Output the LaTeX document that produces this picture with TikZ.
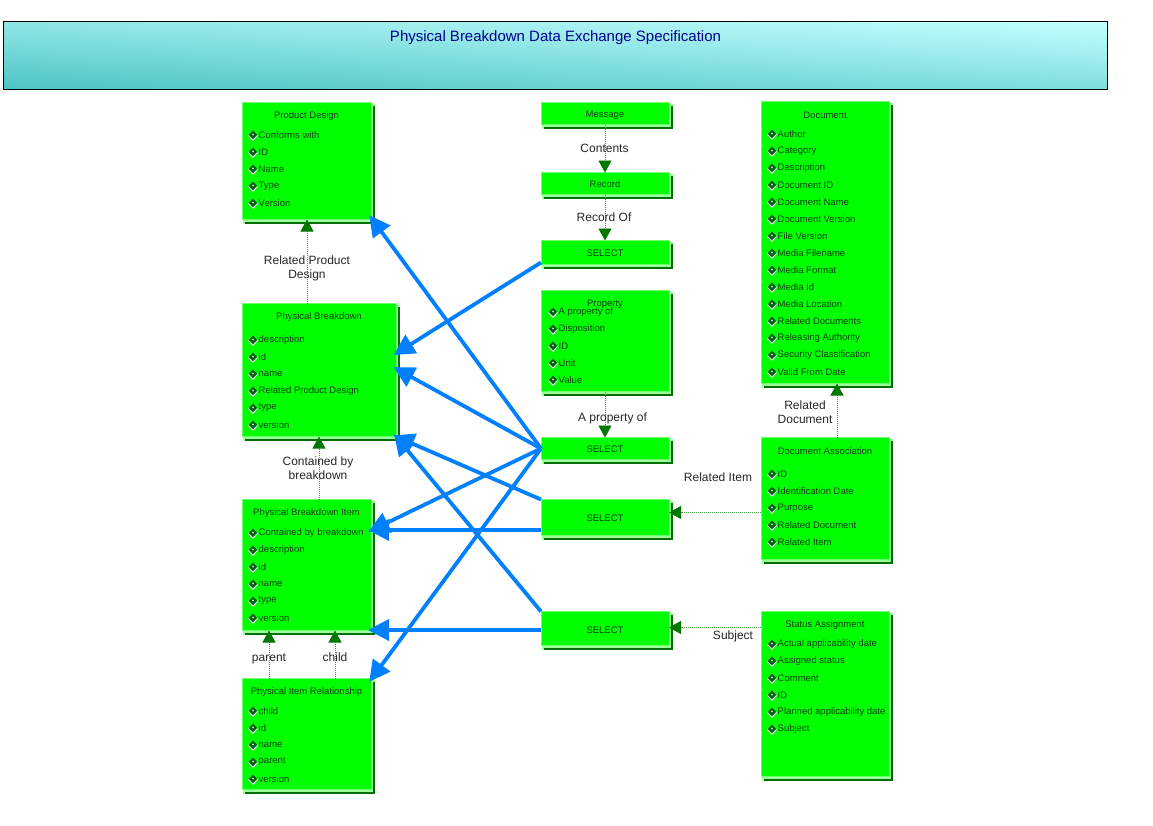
\documentclass[tikz,border=0pt]{standalone}
\usepackage{fontspec}
\setmainfont{Liberation Sans}
\usetikzlibrary{arrows.meta,calc,shadings}
\definecolor{boxg}{RGB}{0,255,0}
\definecolor{edgeg}{RGB}{110,255,110}
\definecolor{shadg}{RGB}{0,110,0}
\definecolor{linkg}{RGB}{0,120,0}
\definecolor{blue1}{RGB}{0,128,255}
\definecolor{titleblue}{RGB}{0,0,139}
\definecolor{banll}{RGB}{76,196,196}
\definecolor{banlr}{RGB}{128,222,222}
\definecolor{banul}{RGB}{144,230,230}
\definecolor{banur}{RGB}{196,255,255}
\definecolor{entext}{RGB}{10,60,10}
\definecolor{bulwhite}{RGB}{235,225,240}
\definecolor{buldark}{RGB}{0,90,20}
\definecolor{bulhi}{RGB}{190,245,170}
\tikzset{
  x=1pt,y=-1pt,
  entbox/.style={draw=edgeg,line width=1pt,fill=boxg,inner sep=0pt,outer sep=0pt,anchor=north west},
  etitle/.style={font=\fontsize{9.5}{11}\selectfont,text=entext,inner sep=0pt,anchor=center},
  eitem/.style={font=\fontsize{9.5}{11}\selectfont,text=entext,inner sep=0pt,anchor=west},
  lab/.style={font=\fontsize{12}{14}\selectfont,text=black!85,align=center,inner sep=0pt},
  rel/.style={draw=linkg!75,line width=.8pt,dash pattern=on .8pt off 1.2pt,-{Triangle[length=12pt,width=13pt,color=linkg]}},
  refr/.style={draw=blue1,line width=3.8pt,-{Triangle[length=21pt,width=21pt,color=blue1]},shorten >=-3pt},
}
\newcommand{\bul}[2]{%
  \fill[bulwhite] (#1-5,#2+.5) -- (#1,#2-1) -- (#1+5,#2+.5) -- (#1,#2+6) -- cycle;
  \fill[buldark] (#1-4.2,#2) -- (#1,#2-4.5) -- (#1+4.2,#2) -- (#1,#2+4) -- cycle;
  \fill[bulhi] (#1-1,#2-.4) -- (#1,#2-1.6) -- (#1+1,#2-.4) -- (#1,#2+.6) -- cycle;
}
% name, x0, y0, x1, y1, title, title y
\newcommand{\ebox}[7]{%
  \fill[white!60!green] (#2+1,#3+1) rectangle (#4+4,#5+3.5);
  \fill[shadg] (#4+2,#3+2.5) rectangle (#4+4,#5+3.5);
  \fill[shadg] (#2+3,#5+1.5) rectangle (#4+4,#5+3.5);
  \node[entbox,minimum width=#4-#2,minimum height=#5-#3] (#1) at (#2,#3-.5) {};
  \node[etitle] (#1t) at ({(#2+#4)/2},#7+.8) {#6};
}
% name suffix, x, y, text
\newcommand{\eit}[4]{%
  \bul{#2}{#3}
  \node[eitem] (it#1) at (#2+5.5,#3-.2) {#4};
}
\begin{document}
\begin{tikzpicture}
\useasboundingbox (0,0) rectangle (1153,825);
% banner
\node[draw=black,line width=1pt,inner sep=0pt,outer sep=0pt,anchor=north west,minimum width=1104,minimum height=68,
  lower left=banll,lower right=banlr,upper left=banul,upper right=banur] (banner) at (3,21.5) {};
\node[font=\fontsize{15}{17}\selectfont,text=titleblue,inner sep=0pt] (bannert) at (555.5,38) {Physical Breakdown Data Exchange Specification};
% entities
\ebox{pd}{242}{103}{371}{220}{Product Design}{115}
\eit{a1}{253}{135}{Conforms with}
\eit{a2}{253}{152}{ID}
\eit{a3}{253}{169}{Name}
\eit{a4}{253}{186}{Type}
\eit{a5}{253}{203}{Version}
\ebox{pb}{242}{304}{396}{437}{Physical Breakdown}{316}
\eit{b1}{253}{340}{description}
\eit{b2}{253}{357}{id}
\eit{b3}{253}{374}{name}
\eit{b4}{253}{391}{Related Product Design}
\eit{b5}{253}{408}{type}
\eit{b6}{253}{425}{version}
\ebox{pbi}{242}{500}{371}{631}{Physical Breakdown Item}{512}
\eit{c1}{253}{533}{Contained by breakdown}
\eit{c2}{253}{550}{description}
\eit{c3}{253}{567}{id}
\eit{c4}{253}{584}{name}
\eit{c5}{253}{601}{type}
\eit{c6}{253}{618}{version}
\ebox{pir}{242}{679}{371}{790}{Physical Item Relationship}{691}
\eit{d1}{253}{711}{child}
\eit{d2}{253}{728}{id}
\eit{d3}{253}{745}{name}
\eit{d4}{253}{762}{parent}
\eit{d5}{253}{779}{version}
\ebox{msg}{541}{103}{669}{125}{Message}{114}
\ebox{rec}{541}{173}{669}{195}{Record}{183}
\ebox{sela}{541}{241}{669}{265}{SELECT}{252}
\ebox{prop}{541}{291}{669}{392}{Property}{303}
\eit{e1}{553}{312}{A property of}
\eit{e2}{553}{329}{Disposition}
\eit{e3}{553}{346}{ID}
\eit{e4}{553}{363}{Unit}
\eit{e5}{553}{380}{Value}
\ebox{selb}{541}{438}{669}{460}{SELECT}{448}
\ebox{selc}{541}{500}{669}{536}{SELECT}{517}
\ebox{seld}{541}{612}{669}{646}{SELECT}{629}
\ebox{doc}{761}{102}{889}{384}{Document}{114}
\eit{f1}{772}{134}{Author}
\eit{f2}{772}{151}{Category}
\eit{f3}{772}{168}{Description}
\eit{f4}{772}{185}{Document ID}
\eit{f5}{772}{202}{Document Name}
\eit{f6}{772}{219}{Document Version}
\eit{f7}{772}{236}{File Version}
\eit{f8}{772}{253}{Media Filename}
\eit{f9}{772}{270}{Media Format}
\eit{f10}{772}{287}{Media Id}
\eit{f11}{772}{304}{Media Location}
\eit{f12}{772}{321}{Related Documents}
\eit{f13}{772}{338}{Releasing Authority}
\eit{f14}{772}{355}{Security Classification}
\eit{f15}{772}{372}{Valid From Date}
\ebox{da}{761}{438}{889}{560}{Document Association}{450}
\eit{g1}{772}{474}{ID}
\eit{g2}{772}{491}{Identification Date}
\eit{g3}{772}{508}{Purpose}
\eit{g4}{772}{525}{Related Document}
\eit{g5}{772}{542}{Related Item}
\ebox{sa}{761}{612}{889}{777}{Status Assignment}{624}
\eit{h1}{772}{644}{Actual applicability date}
\eit{h2}{772}{661}{Assigned status}
\eit{h3}{772}{678}{Comment}
\eit{h4}{772}{695}{ID}
\eit{h5}{772}{712}{Planned applicability date}
\eit{h6}{772}{729}{Subject}
% dotted relations
\draw[rel] (msg.south) -- (rec.north);
\draw[rel] (rec.south) -- (sela.north);
\draw[rel] (prop.south) -- (selb.north);
\draw[rel] ([xshift=65]pb.north west) -- ([xshift=65]pd.south west);
\draw[rel] ([xshift=77]pbi.north west) -- ([xshift=77]pb.south west);
\draw[rel] ([xshift=27]pir.north west) -- ([xshift=27]pbi.south west);
\draw[rel] ([xshift=93]pir.north west) -- ([xshift=93]pbi.south west);
\draw[rel] ([xshift=76]da.north west) -- ([xshift=76]doc.south west);
\draw[rel] ([yshift=-75]da.north west) -- ([yshift=5]selc.east);
\draw[rel] ([yshift=-16]sa.north west) -- ([yshift=1]seld.east);
% blue references
\draw[refr] ([yshift=-22]sela.north west) -- ([yshift=-50]pb.north east);
\draw[refr] (selb.west) -- ([yshift=2]pd.south east);
\draw[refr] (selb.west) -- ([yshift=-65]pb.north east);
\draw[refr] (selb.west) -- ([yshift=-31]pbi.north east);
\draw[refr] (selb.west) -- ([yshift=-1]pir.north east);
\draw[refr] (selc.north west) -- (pb.south east);
\draw[refr] ([yshift=-30.5]selc.north west) -- ([yshift=-30.5]pbi.north east);
\draw[refr] (seld.north west) -- (pb.south east);
\draw[refr] ([yshift=-1.5]seld.west) -- ([yshift=.5]pbi.south east);
% labels
\node[lab] (l1) at (604.5,148) {Contents};
\node[lab] (l2) at (604,217) {Record Of};
\node[lab] (l3) at (307,268) {Related Product\\Design};
\node[lab] (l4) at (612.5,418) {A property of};
\node[lab] (l5) at (805,412) {Related\\Document};
\node[lab] (l6) at (318,468) {Contained by\\breakdown};
\node[lab,anchor=base] (l7) at (269,661) {parent};
\node[lab,anchor=base] (l8) at (335,661) {child};
\node[lab] (l9) at (718,477) {Related Item};
\node[lab] (l10) at (733,636) {Subject};
\end{tikzpicture}
\end{document}
